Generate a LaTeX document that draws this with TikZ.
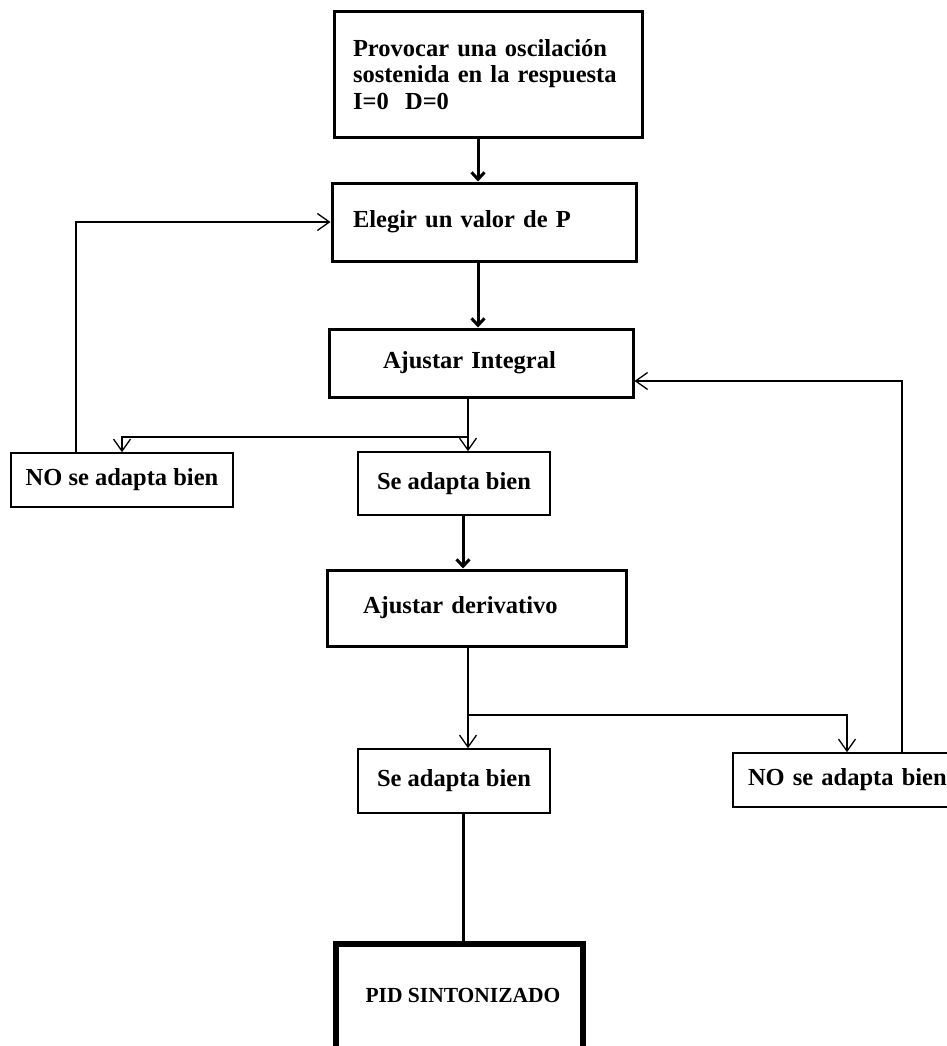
\documentclass[tikz,border=0pt]{standalone}
\usepackage{fontspec}
\setmainfont{Liberation Serif}
\usetikzlibrary{arrows.meta}
\begin{document}
\begin{tikzpicture}[x=1pt,y=-1pt,
  lbl/.style={font=\fontsize{24.5}{26.5}\selectfont\bfseries},
  bigbox/.style={draw, rectangle, line width=3pt, lbl, inner ysep=0pt, align=left},
  smallbox/.style={draw, rectangle, line width=1.6pt, lbl, inner sep=0pt, align=center},
  thinline/.style={line width=1.3pt},
  thinarrow/.style={thinline, -{Straight Barb[length=12pt,width=17pt]}},
  thickline/.style={line width=3pt},
  thickarrow/.style={thickline, -{Straight Barb[length=7pt,width=13pt]}},
]
\useasboundingbox[fill=white] (0,0) rectangle (946,1046);

\node[bigbox, minimum width=308pt, minimum height=125pt, inner xsep=19pt, text width=270pt] (b1) at (488,74.5)
  {Provocar una oscilación\\sostenida en la respuesta\\I=0\ \ D=0};
\node[bigbox, minimum width=304pt, minimum height=78pt, inner xsep=21pt, text width=262pt] (b2) at (484,222)
  {Elegir un valor de P};
\node[bigbox, minimum width=304pt, minimum height=68pt, inner xsep=54pt, text width=196pt] (b3) at (481,363)
  {Ajustar Integral};
\node[smallbox, minimum width=222pt, minimum height=54pt] (nol) at (122,480) {NO se adapta bien};
\node[smallbox, minimum width=192pt, minimum height=63pt] (sa1) at (454,483.5) {Se adapta bien};
\node[bigbox, minimum width=299pt, minimum height=76pt, inner xsep=36pt, text width=227pt] (b4) at (476.5,608)
  {Ajustar derivativo};
\node[smallbox, minimum width=192pt, minimum height=64pt] (sa2) at (454,781) {Se adapta bien};
\node[smallbox, minimum width=240pt, minimum height=54pt, align=left, inner xsep=15pt, text width=210pt] (nor) at (853,780)
  {NO se adapta bien};
\node[draw, rectangle, line width=6pt, minimum width=247pt, minimum height=116pt] (pid) at (459.5,1002) {};
\node[font=\fontsize{21.5}{24}\selectfont\bfseries, anchor=base, inner sep=0pt] (pidtext) at (463,1002) {PID SINTONIZADO};

\coordinate (j1) at (468,437);
\coordinate (j2) at (468,715);
\coordinate (j3) at (847,715);
\coordinate (c1) at (76,222);
\coordinate (c2) at (902,381);
\coordinate (x478) at (478,0);
\coordinate (x463) at (463,0);

\draw[thickarrow] (b1.south -| x478) -- (b2.north -| x478);
\draw[thickarrow] (b2.south -| x478) -- (b3.north -| x478);
\draw[thinline] (b3.south -| j1) -- (j1);
\draw[thinarrow] (j1) -| (nol.north);
\draw[thinarrow] (j1) -- (sa1.north -| j1);
\draw[thinarrow] (nol.north -| c1) |- (b2.west);
\draw[thickarrow] (sa1.south -| x463) -- (b4.north -| x463);
\draw[thinline] (b4.south -| j2) -- (j2);
\draw[thinarrow] (j2) -- (j3) -- (nor.north -| j3);
\draw[thinarrow] (j2) -- (sa2.north -| j2);
\draw[thinarrow] (nor.north -| c2) |- (b3.east |- c2);
\draw[thickline] (sa2.south -| x463) -- (pid.north -| x463);
\end{tikzpicture}
\end{document}
